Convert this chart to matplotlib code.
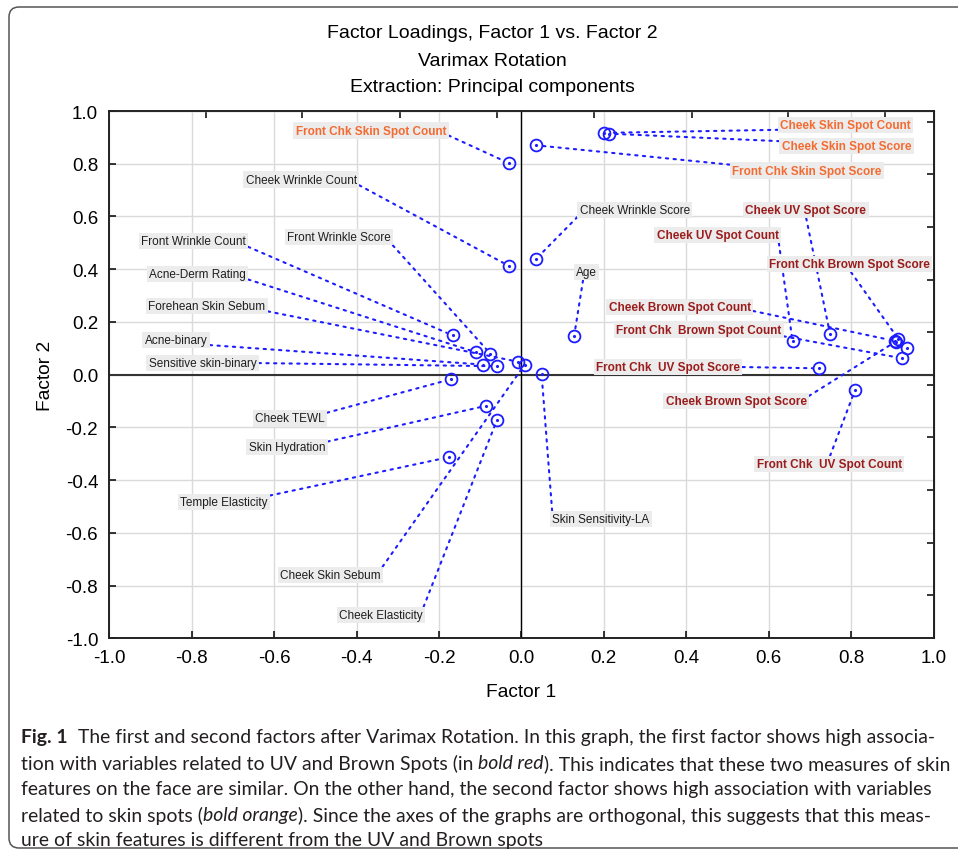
import matplotlib
matplotlib.use("Agg")
import matplotlib.pyplot as plt
import numpy as np
from matplotlib.patches import FancyBboxPatch
from matplotlib.font_manager import FontProperties

plt.rcParams['font.family'] = ['Liberation Sans', 'DejaVu Sans']

# factor loadings
names = ["Front Chk Skin Spot Count", "Cheek Wrinkle Count", "Front Wrinkle Score",
         "Front Wrinkle Count", "Acne-Derm Rating", "Forehean Skin Sebum", "Acne-binary",
         "Sensitive skin-binary", "Cheek TEWL", "Skin Hydration", "Temple Elasticity",
         "Cheek Skin Sebum", "Cheek Elasticity", "Skin Sensitivity-LA",
         "Cheek Skin Spot Count", "Cheek Skin Spot Score", "Front Chk Skin Spot Score",
         "Cheek Wrinkle Score", "Age", "Cheek UV Spot Score", "Cheek UV Spot Count",
         "Front Chk Brown Spot Score", "Cheek Brown Spot Count", "Front Chk  Brown Spot Count",
         "Front Chk  UV Spot Score", "Cheek Brown Spot Score", "Front Chk  UV Spot Count", ""]
factor1 = [-0.030, -0.031, -0.075, -0.167, -0.110, -0.008, -0.092, -0.059, -0.170, -0.085,
           -0.176, 0.008, -0.059, 0.049, 0.201, 0.213, 0.035, 0.035, 0.128, 0.749, 0.658,
           0.914, 0.906, 0.924, 0.722, 0.908, 0.810, 0.936]
factor2 = [0.802, 0.413, 0.079, 0.149, 0.085, 0.049, 0.038, 0.032, -0.017, -0.118,
           -0.313, 0.038, -0.171, 0.002, 0.917, 0.914, 0.870, 0.438, 0.147, 0.154, 0.127,
           0.137, 0.128, 0.062, 0.024, 0.125, -0.057, 0.102]
groups = ["orange", "plain", "plain", "plain", "plain", "plain", "plain", "plain", "plain",
          "plain", "plain", "plain", "plain", "plain", "orange", "orange", "orange", "plain",
          "plain", "red", "red", "red", "red", "red", "red", "red", "red", "plain"]

# label placement (layout)
label_xy = [(-0.365, 0.925), (-0.534, 0.739), (-0.443, 0.522), (-0.796, 0.507),
            (-0.786, 0.382), (-0.763, 0.260), (-0.838, 0.131), (-0.774, 0.044),
            (-0.562, -0.165), (-0.569, -0.274), (-0.722, -0.483), (-0.463, -0.760),
            (-0.341, -0.912), (0.193, -0.548), (0.787, 0.947), (0.789, 0.867),
            (0.692, 0.773), (0.275, 0.625), (0.158, 0.389), (0.690, 0.625),
            (0.476, 0.530), (0.796, 0.420), (0.384, 0.257), (0.430, 0.170),
            (0.356, 0.029), (0.521, -0.100), (0.747, -0.339), None]
label_rel = [(1, 0.2), (1, 0.15), (1, 0), (1, 0.1), (1, 0.1), (1, 0.1), (1, 0.1), (1, 0.5),
             (1, 0.9), (1, 0.9), (1, 1), (1, 1), (1, 1), (0, 1), (0, 0.1), (0, 0.9), (0, 1),
             (0, 0.1), (0.35, 0), (0.5, 0), (1, 0), (0.5, 0), (1, 0.2), (1, 0), (1, 0.5),
             (1, 0.8), (0.5, 1), None]

text_colors = {"plain": "#1e1e1e", "orange": "#f46b32", "red": "#9b1c1c"}
blue = "#1c1cff"

ticks = np.round(np.arange(-1.0, 1.01, 0.2), 1)
tick_labels = ["-1.0", "-0.8", "-0.6", "-0.4", "-0.2", "0.0", "0.2", "0.4", "0.6", "0.8", "1.0"]
# the opposite axes carry their own (offset) tick marks
top_ticks = [-0.766, -0.532, -0.295, -0.059, 0.177, 0.413, 0.647, 0.883]
right_ticks = [0.959, 0.761, 0.560, 0.359, 0.162, -0.039, -0.237, -0.437, -0.637, -0.837]

W, H = 958, 854
fig = plt.figure(figsize=(W / 100, H / 100), dpi=100)
ax = fig.add_axes([109.3 / W, 1 - 639.3 / H, 824.2 / W, 527.3 / H])

ax.set_xlim(-1, 1)
ax.set_ylim(-1, 1)
ax.set_xticks(ticks)
ax.set_xticklabels(tick_labels)
ax.set_yticks(ticks)
ax.set_yticklabels(tick_labels)
ax.grid(color="#dadada", lw=1)
ax.set_axisbelow(True)
ax.axhline(0, color="#333333", lw=1.5, zorder=1)
ax.axvline(0, color="black", lw=1, zorder=1)
for s in ax.spines.values():
    s.set_linewidth(1.4)
    s.set_color("#222222")
ax.tick_params(direction="in", length=5, width=1.1, labelsize=13.5, pad=8)

sec_x = ax.secondary_xaxis("top")
sec_x.set_xticks(top_ticks)
sec_x.set_xticklabels([])
sec_x.tick_params(direction="in", length=5, width=1.1)
sec_y = ax.secondary_yaxis("right")
sec_y.set_yticks(right_ticks)
sec_y.set_yticklabels([])
sec_y.tick_params(direction="in", length=5, width=1.1)

ax.plot(factor1, factor2, "o", mfc="none", mec=blue, ms=8.5, mew=1.3, zorder=4)
ax.plot(factor1, factor2, ".", color=blue, ms=2.5, zorder=4)

for i, nm in enumerate(names):
    if not nm:
        continue
    weight = "normal" if groups[i] == "plain" else "bold"
    ax.annotate(nm, xy=(factor1[i], factor2[i]), xytext=label_xy[i], textcoords="data",
                ha="center", va="center", fontsize=8.5, fontweight=weight,
                color=text_colors[groups[i]], zorder=3,
                bbox=dict(boxstyle="square,pad=0.2", fc="#ececec", ec="none"),
                arrowprops=dict(arrowstyle="-", linestyle=(0, (1.1, 2.6)), color=blue, lw=1.5,
                                shrinkA=0, shrinkB=4.5, relpos=label_rel[i]))

# titles and axis names
fig.text(492 / W, 1 - 33 / H, "Factor Loadings, Factor 1 vs. Factor 2", ha="center", va="center", fontsize=14)
fig.text(492 / W, 1 - 61 / H, "Varimax Rotation", ha="center", va="center", fontsize=14)
fig.text(492 / W, 1 - 88 / H, "Extraction: Principal components", ha="center", va="center", fontsize=14)
fig.text(521 / W, 1 - 693 / H, "Factor 1", ha="center", va="center", fontsize=13.8)
fig.text(45 / W, 1 - 376 / H, "Factor 2", ha="center", va="center", rotation=90, fontsize=13.8)

# frame around figure + caption
frame = FancyBboxPatch((9, H - 849), 1000, 841, boxstyle="round,pad=0,rounding_size=10",
                       fill=False, ec="#555555", lw=1.1, transform=None)
fig.add_artist(frame)
frame.set_transform(None)

renderer = fig.canvas.get_renderer()


def seg_width(txt, size, weight="normal", style="normal"):
    fp = FontProperties(family="Lato", size=size, weight=weight, style=style)
    w1 = renderer.get_text_width_height_descent(txt + "|", fp, ismath=False)[0]
    w2 = renderer.get_text_width_height_descent("|", fp, ismath=False)[0]
    return w1 - w2


caption = [
    [("Fig. 1", "bold", "normal"), ("  The first and second factors after Varimax Rotation. In this graph, the first factor shows high associa-", "normal", "normal")],
    [("tion with variables related to UV and Brown Spots (in ", "normal", "normal"), ("bold red", "normal", "italic"), ("). This indicates that these two measures of skin", "normal", "normal")],
    [("features on the face are similar. On the other hand, the second factor shows high association with variables", "normal", "normal")],
    [("related to skin spots (", "normal", "normal"), ("bold orange", "normal", "italic"), ("). Since the axes of the graphs are orthogonal, this suggests that this meas-", "normal", "normal")],
    [("ure of skin features is different from the UV and Brown spots", "normal", "normal")],
]
cap_y = [738, 764, 790, 816, 841]
cap_size = 12 * 905 / seg_width(caption[2][0][0], 12)

for y, parts in zip(cap_y, caption):
    x = 21
    for txt, wt, st in parts:
        fig.text(x / W, 1 - y / H, txt, ha="left", va="center", fontsize=cap_size,
                 family="Lato", fontweight=wt, fontstyle=st, color="#231f20")
        x += seg_width(txt, cap_size, wt, st)

fig.savefig("out.png", dpi=100)
